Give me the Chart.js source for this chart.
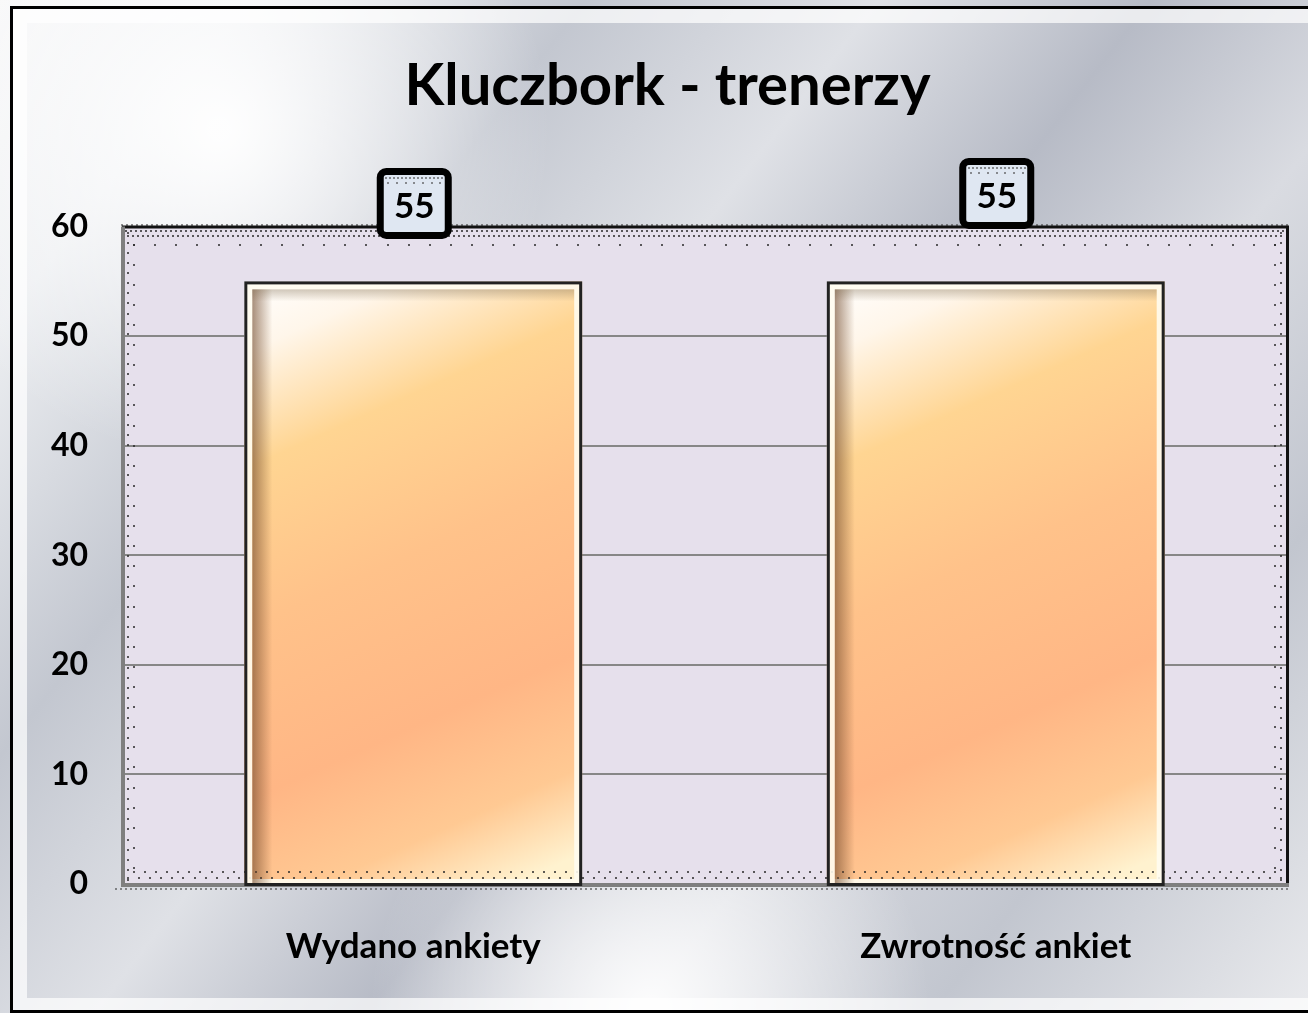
<!DOCTYPE html>
<html>
<head>
<meta charset="utf-8">
<script src="https://cdn.jsdelivr.net/npm/chart.js@4/dist/chart.umd.min.js"></script>
<style>
  html, body { margin: 0; padding: 0; background: #fff; }
  #wrap { width: 1308px; height: 1013px; position: relative; }
</style>
</head>
<body>
<div id="wrap"><canvas id="chart"></canvas></div>
<script>
const chartTitle = 'Kluczbork - trenerzy'
const categories = ['Wydano ankiety', 'Zwrotność ankiet']
const values = [55, 55]
const yMin = 0
const yMax = 60
const yStep = 10

const FONT = 'Lato, "Open Sans", sans-serif'
const BAR_RATIO = 0.58

// metallic backdrop, outer frame and the lavender plot area
const backdrop = {
  id: 'backdrop',
  beforeDraw(chart) {
    const { ctx, width, height, chartArea: a } = chart
    ctx.save()
    const g = ctx.createLinearGradient(0, 0, width, height)
    g.addColorStop(0, '#f7f7f8')
    g.addColorStop(0.12, '#eceef1')
    g.addColorStop(0.28, '#c3c7d0')
    g.addColorStop(0.42, '#dfe1e6')
    g.addColorStop(0.55, '#b7bbc6')
    g.addColorStop(0.68, '#d9dbe1')
    g.addColorStop(0.82, '#c2c6cf')
    g.addColorStop(1, '#e9eaed')
    ctx.fillStyle = g
    ctx.fillRect(0, 0, width, height)

    const r = ctx.createRadialGradient(220, 130, 10, 220, 130, 330)
    r.addColorStop(0, 'rgba(255,255,255,0.95)')
    r.addColorStop(1, 'rgba(255,255,255,0)')
    ctx.fillStyle = r
    ctx.fillRect(0, 0, width, height)

    const r2 = ctx.createRadialGradient(650, 1010, 10, 650, 1010, 280)
    r2.addColorStop(0, 'rgba(255,255,255,0.9)')
    r2.addColorStop(1, 'rgba(255,255,255,0)')
    ctx.fillStyle = r2
    ctx.fillRect(0, 0, width, height)

    // soft bevel of the frame
    ctx.strokeStyle = 'rgba(255,255,255,0.7)'
    ctx.lineWidth = 14
    ctx.strokeRect(20, 16, width, height - 24)

    ctx.strokeStyle = '#000'
    ctx.lineWidth = 3
    ctx.strokeRect(11.5, 7.5, width + 20, height - 9)

    ctx.fillStyle = '#e6e0ec'
    ctx.fillRect(a.left, a.top, a.right - a.left, a.bottom - a.top)
    ctx.restore()
  }
}

function dots(ctx, x0, y0, x1, y1, step) {
  const len = Math.hypot(x1 - x0, y1 - y0)
  const n = Math.floor(len / step)
  for (let i = 0; i <= n; i++) {
    const t = n ? i / n : 0
    ctx.fillRect(Math.round(x0 + (x1 - x0) * t) - 1, Math.round(y0 + (y1 - y0) * t) - 1, 2, 2)
  }
}

// dotted inner band and the frame lines of the plot area
const plotFrame = {
  id: 'plotFrame',
  afterDatasetsDraw(chart) {
    const { ctx, chartArea: a } = chart
    ctx.save()
    ctx.fillStyle = 'rgba(40,40,40,0.75)'
    dots(ctx, a.left + 4, a.top + 4, a.right - 4, a.top + 4, 5)
    dots(ctx, a.left + 6, a.top + 9, a.right - 6, a.top + 9, 5)
    dots(ctx, a.left + 12, a.top + 18, a.right - 12, a.top + 18, 21)
    dots(ctx, a.left + 6, a.top + 6, a.left + 6, a.bottom - 4, 10)
    dots(ctx, a.left + 12, a.top + 18, a.left + 12, a.bottom - 16, 20)
    dots(ctx, a.right - 6, a.top + 6, a.right - 6, a.bottom - 4, 10)
    dots(ctx, a.right - 12, a.top + 18, a.right - 12, a.bottom - 16, 20)
    dots(ctx, a.left + 6, a.bottom - 6, a.right - 6, a.bottom - 6, 11)
    dots(ctx, a.left + 12, a.bottom - 12, a.right - 12, a.bottom - 12, 11)
    ctx.fillStyle = 'rgba(70,70,70,0.6)'
    dots(ctx, a.left, a.top - 2, a.right, a.top - 2, 5)
    dots(ctx, a.left - 6, a.bottom + 5, a.right, a.bottom + 5, 5)

    ctx.strokeStyle = '#111'
    ctx.lineWidth = 3
    ctx.beginPath()
    ctx.moveTo(a.left, a.top + 0.5)
    ctx.lineTo(a.right + 0.5, a.top + 0.5)
    ctx.lineTo(a.right + 0.5, a.bottom)
    ctx.stroke()
    ctx.strokeStyle = '#7f7f7f'
    ctx.lineWidth = 4
    ctx.beginPath()
    ctx.moveTo(a.left + 1, a.top)
    ctx.lineTo(a.left + 1, a.bottom + 1)
    ctx.lineTo(a.right + 2, a.bottom + 1)
    ctx.stroke()
    ctx.restore()
  }
}

// bevelled edges on each bar
const barBevel = {
  id: 'barBevel',
  afterDatasetsDraw(chart) {
    const { ctx } = chart
    const meta = chart.getDatasetMeta(0)
    ctx.save()
    meta.data.forEach(el => {
      const { x, y, base, width } = el.getProps(['x', 'y', 'base', 'width'], true)
      if (![x, y, base, width].every(Number.isFinite)) return
      const l = x - width / 2
      const h = base - y
      ctx.strokeStyle = 'rgba(255,252,240,0.9)'
      ctx.lineWidth = 6
      ctx.strokeRect(l + 5, y + 5, width - 10, h - 6)
      const sh = ctx.createLinearGradient(l + 8, 0, l + 28, 0)
      sh.addColorStop(0, 'rgba(110,70,40,0.6)')
      sh.addColorStop(1, 'rgba(110,70,40,0)')
      ctx.fillStyle = sh
      ctx.fillRect(l + 8, y + 8, 20, h - 8)
      const tp = ctx.createLinearGradient(0, y + 8, 0, y + 20)
      tp.addColorStop(0, 'rgba(120,100,70,0.35)')
      tp.addColorStop(1, 'rgba(120,100,70,0)')
      ctx.fillStyle = tp
      ctx.fillRect(l + 8, y + 8, width - 16, 12)
      ctx.strokeStyle = '#222'
      ctx.lineWidth = 3
      ctx.strokeRect(l + 1.5, y + 1.5, width - 3, h)
    })
    ctx.restore()
  }
}

// value boxes with thick rounded black border
const valueBoxes = {
  id: 'valueBoxes',
  afterDraw(chart, args, opts) {
    const { ctx } = chart
    const meta = chart.getDatasetMeta(0)
    ctx.save()
    meta.data.forEach((el, i) => {
      const { x, y } = el.getProps(['x', 'y'], true)
      if (!Number.isFinite(x) || !Number.isFinite(y)) return
      const cx = x + 1
      const cy = y - opts.lift[i]
      const w = 68, h = 64
      ctx.beginPath()
      ctx.roundRect(cx - w / 2, cy - h / 2, w, h, 6)
      ctx.fillStyle = '#dfe7f2'
      ctx.fill()
      ctx.lineWidth = 7
      ctx.strokeStyle = '#000'
      ctx.stroke()
      ctx.fillStyle = 'rgba(60,60,60,0.55)'
      dots(ctx, cx - w / 2 + 6, cy - h / 2 + 7, cx + w / 2 - 6, cy - h / 2 + 7, 4)
      dots(ctx, cx - w / 2 + 8, cy - h / 2 + 12, cx + w / 2 - 8, cy - h / 2 + 12, 8)
      ctx.fillStyle = '#000'
      ctx.font = 'bold 35px ' + FONT
      ctx.textAlign = 'center'
      ctx.textBaseline = 'middle'
      ctx.fillText(String(values[i]), cx, cy + 3)
    })
    ctx.restore()
  }
}

function barGradient(context) {
  const chart = context.chart
  const xs = chart.scales.x
  const ys = chart.scales.y
  const fallback = '#ffc48b'
  if (!xs || !ys || context.dataIndex == null) return fallback
  const cx = xs.getPixelForValue(context.dataIndex)
  const half = xs.width / categories.length * BAR_RATIO / 2
  const top = ys.getPixelForValue(values[context.dataIndex])
  const base = ys.getPixelForValue(0)
  if (![cx, half, top, base].every(Number.isFinite) || half <= 0) return fallback
  const g = chart.ctx.createLinearGradient(cx - half, top, cx + half * 0.6, base)
  g.addColorStop(0, '#ffffff')
  g.addColorStop(0.1, '#fff6ea')
  g.addColorStop(0.26, '#ffd592')
  g.addColorStop(0.48, '#ffc28a')
  g.addColorStop(0.72, '#ffb685')
  g.addColorStop(0.88, '#ffc993')
  g.addColorStop(1, '#fff2cf')
  return g
}

new Chart(document.getElementById('chart'), {
  type: 'bar',
  data: {
    labels: categories,
    datasets: [{
      data: values,
      backgroundColor: barGradient,
      borderWidth: 0,
      barPercentage: BAR_RATIO,
      categoryPercentage: 1,
    }],
  },
  options: {
    responsive: true,
    maintainAspectRatio: false,
    animation: false,
    // left padding shifts the title centre; y axis width keeps plot left at 122
    layout: { padding: { left: 48, right: 21, top: 0, bottom: 0 } },
    plugins: {
      legend: { display: false },
      tooltip: { enabled: false },
      title: {
        display: true,
        text: chartTitle,
        color: '#000',
        font: { family: FONT, size: 58, weight: 'bold', lineHeight: 1.2 },
        padding: { top: 51, bottom: 106 },
      },
      valueBoxes: { lift: [78, 88] },
    },
    scales: {
      x: {
        grid: { display: false },
        border: { display: false },
        ticks: {
          color: '#000',
          padding: 34,
          font: { family: FONT, size: 35, weight: 'bold' },
        },
        afterFit: s => { s.height = 129 },
      },
      y: {
        min: yMin,
        max: yMax,
        grid: { color: '#878787', lineWidth: 2, drawTicks: false },
        border: { display: false },
        ticks: {
          stepSize: yStep,
          color: '#000',
          padding: 34,
          font: { family: FONT, size: 32, weight: 'bold' },
        },
        afterFit: s => { s.width = 74 },
      },
    },
  },
  plugins: [backdrop, plotFrame, barBevel, valueBoxes],
})
</script>
</body>
</html>
